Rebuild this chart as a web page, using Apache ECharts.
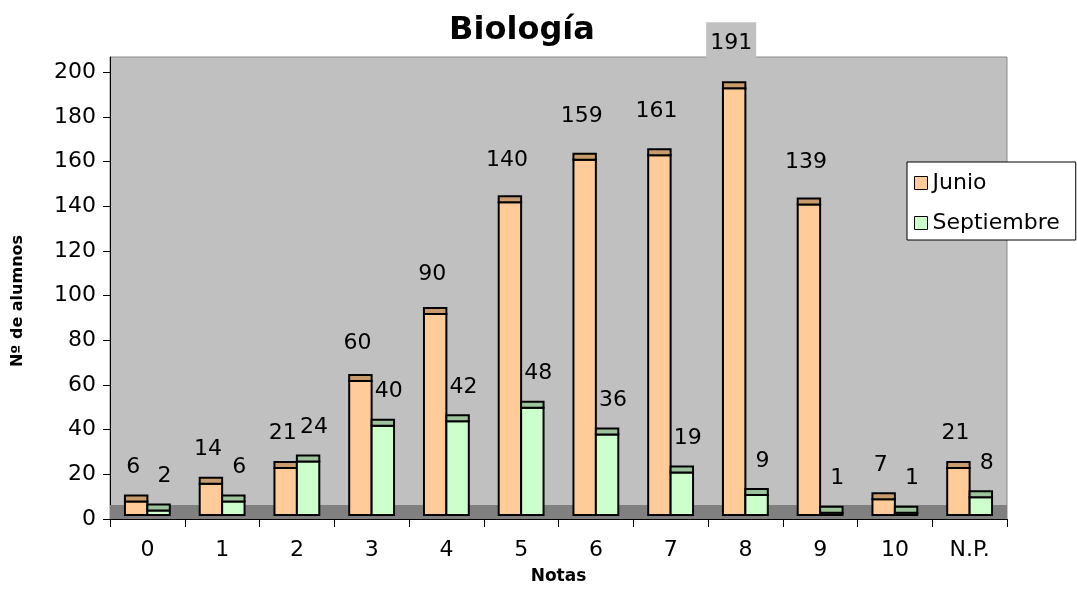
<!DOCTYPE html>
<html><head><meta charset="utf-8">
<script src="https://cdn.jsdelivr.net/npm/echarts@6/dist/echarts.min.js"></script>
<style>html,body{margin:0;padding:0;background:#fff}#c{width:1077px;height:590px}</style>
</head><body><div id="c"></div>
<script>
const categories = ['0','1','2','3','4','5','6','7','8','9','10','N.P.'];
const junio = [6,14,21,60,90,140,159,161,191,139,7,21];
const septiembre = [2,6,24,40,42,48,36,19,9,1,1,8];
const yTicks = [0,20,40,60,80,100,120,140,160,180,200];
const seriesNames = ['Junio','Septiembre'];

const FONT = '"DejaVu Sans", sans-serif';
const Y_MAX = 206.8;
const FACE = ['#FFCC99', '#CCFFCC'];
const CAP = ['#C99C6E', '#9CC39C'];

function barRenderer(side, face, cap, labelDx, labelDy) {
  return function (params, api) {
    const idx = api.value(0), v = api.value(1);
    const top = api.coord([idx, v]);
    const base = api.coord([idx, 0]);
    const band = api.size([1, 0])[0];
    const bw = band * 0.3;
    const x = side < 0 ? top[0] - bw : top[0];
    const depth = 4, capH = 6;
    const lx = top[0] + side * bw / 2 + labelDx;
    const ly = top[1] + labelDy(v);
    const cs = params.coordSys;
    const needBg = ly - 19 < cs.y;
    return {
      type: 'group',
      children: [
        { type: 'rect', shape: { x: x, y: top[1] - depth, width: bw, height: base[1] - top[1] },
          style: { fill: face, stroke: '#000', lineWidth: 2 } },
        { type: 'rect', shape: { x: x, y: top[1] - depth - capH, width: bw, height: capH },
          style: { fill: cap, stroke: '#000', lineWidth: 2 } },
        { type: 'text', x: lx, y: ly, z2: 10,
          style: { text: String(v), fill: '#000', fontFamily: FONT, fontSize: 22,
            align: 'center', verticalAlign: 'middle',
            backgroundColor: needBg ? '#C0C0C0' : 'transparent',
            padding: needBg ? [11, 4, 8, 4] : 0 } }
      ]
    };
  };
}

const chart = echarts.init(document.getElementById('c'), null, { renderer: 'canvas' });
chart.setOption({
  animation: false,
  backgroundColor: '#fff',
  title: {
    text: 'Biología', left: 517, top: 10, textAlign: 'center',
    textStyle: { fontFamily: FONT, fontSize: 32, fontWeight: 'bold', color: '#000' }
  },
  grid: {
    left: 110, right: 70, top: 57, bottom: 69, containLabel: false,
    show: true, backgroundColor: '#C0C0C0', borderColor: '#8a8a8a', borderWidth: 1
  },
  legend: {
    orient: 'vertical', left: 907, top: 162, padding: [10, 16, 6, 7], itemGap: 18,
    itemWidth: 13, itemHeight: 13, backgroundColor: '#fff', borderColor: '#000', borderWidth: 1,
    textStyle: { fontFamily: FONT, fontSize: 22, color: '#000' },
    data: seriesNames.map((n, i) => ({ name: n, icon: 'rect',
      itemStyle: { color: FACE[i], borderColor: '#000', borderWidth: 1 } }))
  },
  xAxis: {
    type: 'category', data: categories, boundaryGap: true,
    axisLine: { lineStyle: { color: '#000', width: 1 } },
    axisTick: { show: true, interval: 0, length: 8, lineStyle: { color: '#000' } },
    axisLabel: { interval: 0, margin: 20, fontFamily: FONT, fontSize: 22, color: '#000' },
    name: 'Notas', nameLocation: 'middle', nameGap: 49,
    nameTextStyle: { fontFamily: FONT, fontSize: 17, fontWeight: 'bold', color: '#000' }
  },
  yAxis: {
    type: 'value', min: 0, max: Y_MAX,
    axisLine: { show: true, lineStyle: { color: '#000' } },
    axisTick: { show: true, length: 7, customValues: yTicks, lineStyle: { color: '#000' } },
    axisLabel: { customValues: yTicks, margin: 14, fontFamily: FONT, fontSize: 22, color: '#000' },
    splitLine: { show: false },
    name: 'Nº de alumnos', nameLocation: 'middle', nameGap: 84, nameRotate: 90,
    nameTextStyle: { fontFamily: FONT, fontSize: 16, fontWeight: 'bold', color: '#000', padding: [0, 26, 0, 0] }
  },
  series: [
    {
      type: 'custom', name: 'floor', silent: true, z: 1, data: [[0, 0]], encode: { x: 0, y: 1 },
      renderItem: function (params, api) {
        const cs = params.coordSys;
        const b = api.coord([0, 0])[1];
        return { type: 'rect', shape: { x: cs.x, y: b - 14, width: cs.width, height: 14 }, style: { fill: '#808080' } };
      }
    },
    {
      type: 'custom', name: seriesNames[0], z: 2, itemStyle: { color: FACE[0] },
      data: junio.map((v, i) => [i, v]), encode: { x: 0, y: 1 },
      renderItem: barRenderer(-1, FACE[0], CAP[0], -3, v => -(38 + 0.06 * v))
    },
    {
      type: 'custom', name: seriesNames[1], z: 2, itemStyle: { color: FACE[1] },
      data: septiembre.map((v, i) => [i, v]), encode: { x: 0, y: 1 },
      renderItem: barRenderer(1, FACE[1], CAP[1], 6, v => -38)
    }
  ]
});
</script>
</body></html>
